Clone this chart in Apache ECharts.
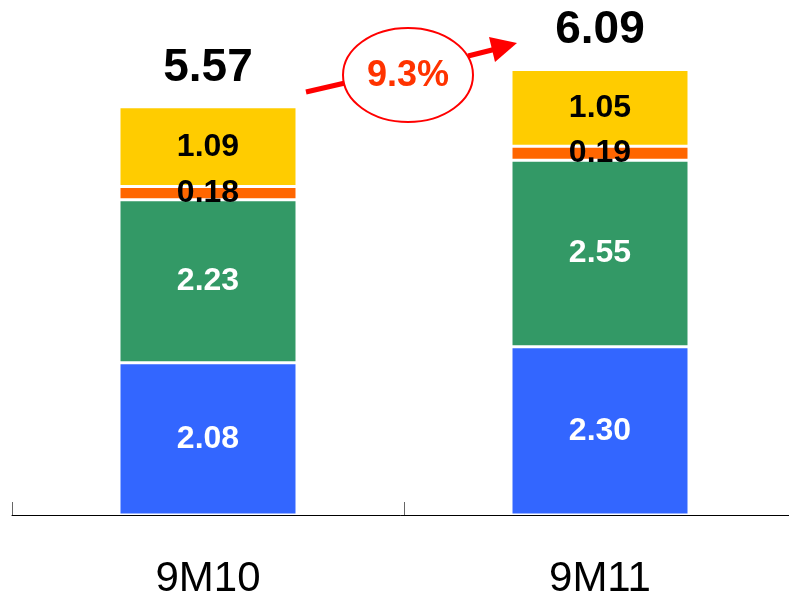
<!DOCTYPE html>
<html>
<head>
<meta charset="utf-8">
<script src="https://cdn.jsdelivr.net/npm/echarts@6/dist/echarts.min.js"></script>
<style>
  html, body { margin: 0; padding: 0; background: #fff; }
  #chart { width: 789px; height: 597px; }
</style>
</head>
<body>
<div id="chart"></div>
<script>
var categories = ['9M10', '9M11']
var blueValues = [2.08, 2.30]
var greenValues = [2.23, 2.55]
var orangeValues = [0.18, 0.19]
var yellowValues = [1.09, 1.05]
var totals = [5.57, 6.09]
var growthText = '9.3%'

var myChart = echarts.init(document.getElementById('chart'))

function segment (name, data, color, labelColor) {
  return {
    name: name,
    type: 'bar',
    stack: 'total',
    barWidth: 178,
    data: data,
    itemStyle: {
      color: color,
      borderColor: '#fff',
      borderWidth: 1.5
    },
    label: {
      show: true,
      position: 'inside',
      color: labelColor,
      fontFamily: 'Liberation Sans, Arial, sans-serif',
      fontWeight: 'bold',
      fontSize: 32,
      formatter: function (p) { return p.value.toFixed(2) }
    }
  }
}

var option = {
  animation: false,
  backgroundColor: '#fff',
  grid: {
    left: 12,
    width: 784, // runs a little past the right edge, like the original
    top: 3,
    bottom: 82,
    containLabel: false,
    outerBoundsMode: 'none'
  },
  xAxis: {
    type: 'category',
    data: categories,
    axisLine: { show: true, lineStyle: { color: '#000', width: 1 } },
    axisTick: { show: true, inside: true, length: 13, lineStyle: { color: '#666' } },
    axisLabel: {
      color: '#000',
      fontFamily: 'Liberation Sans, Arial, sans-serif',
      fontSize: 42,
      margin: 43
    },
    splitLine: { show: false }
  },
  yAxis: {
    type: 'value',
    min: 0,
    max: 7,
    show: false
  },
  series: [
    segment('blue', blueValues, '#3366FF', '#fff'),
    segment('green', greenValues, '#339966', '#fff'),
    segment('orange', orangeValues, '#FF6600', '#000'),
    segment('yellow', yellowValues, '#FFCC00', '#000'),
    {
      name: 'total',
      type: 'line',
      data: totals,
      symbol: 'circle',
      symbolSize: 1,
      itemStyle: { color: 'rgba(0,0,0,0)' },
      lineStyle: { width: 0, opacity: 0 },
      z: 10,
      label: {
        show: true,
        position: 'top',
        distance: 16,
        color: '#000',
        fontFamily: 'Liberation Sans, Arial, sans-serif',
        fontWeight: 'bold',
        fontSize: 46,
        formatter: function (p) { return p.value.toFixed(2) }
      }
    }
  ],
  graphic: [
    // growth arrow
    {
      type: 'line',
      shape: { x1: 306, y1: 92, x2: 345, y2: 83 },
      style: { stroke: '#FF0000', lineWidth: 5 }
    },
    {
      type: 'line',
      shape: { x1: 468, y1: 56, x2: 496, y2: 49 },
      style: { stroke: '#FF0000', lineWidth: 5 }
    },
    {
      type: 'polygon',
      shape: { points: [[517, 43], [489, 37], [495, 62]] },
      style: { fill: '#FF0000' }
    },
    {
      type: 'ellipse',
      shape: { cx: 408, cy: 75, rx: 65, ry: 47 },
      style: { fill: '#fff', stroke: '#FF0000', lineWidth: 2 }
    },
    {
      type: 'text',
      x: 408,
      y: 76,
      style: {
        text: growthText,
        fill: '#FF3300',
        font: 'bold 36px "Liberation Sans", Arial, sans-serif',
        textAlign: 'center',
        textVerticalAlign: 'middle'
      }
    }
  ]
}

myChart.setOption(option)
</script>
</body>
</html>
